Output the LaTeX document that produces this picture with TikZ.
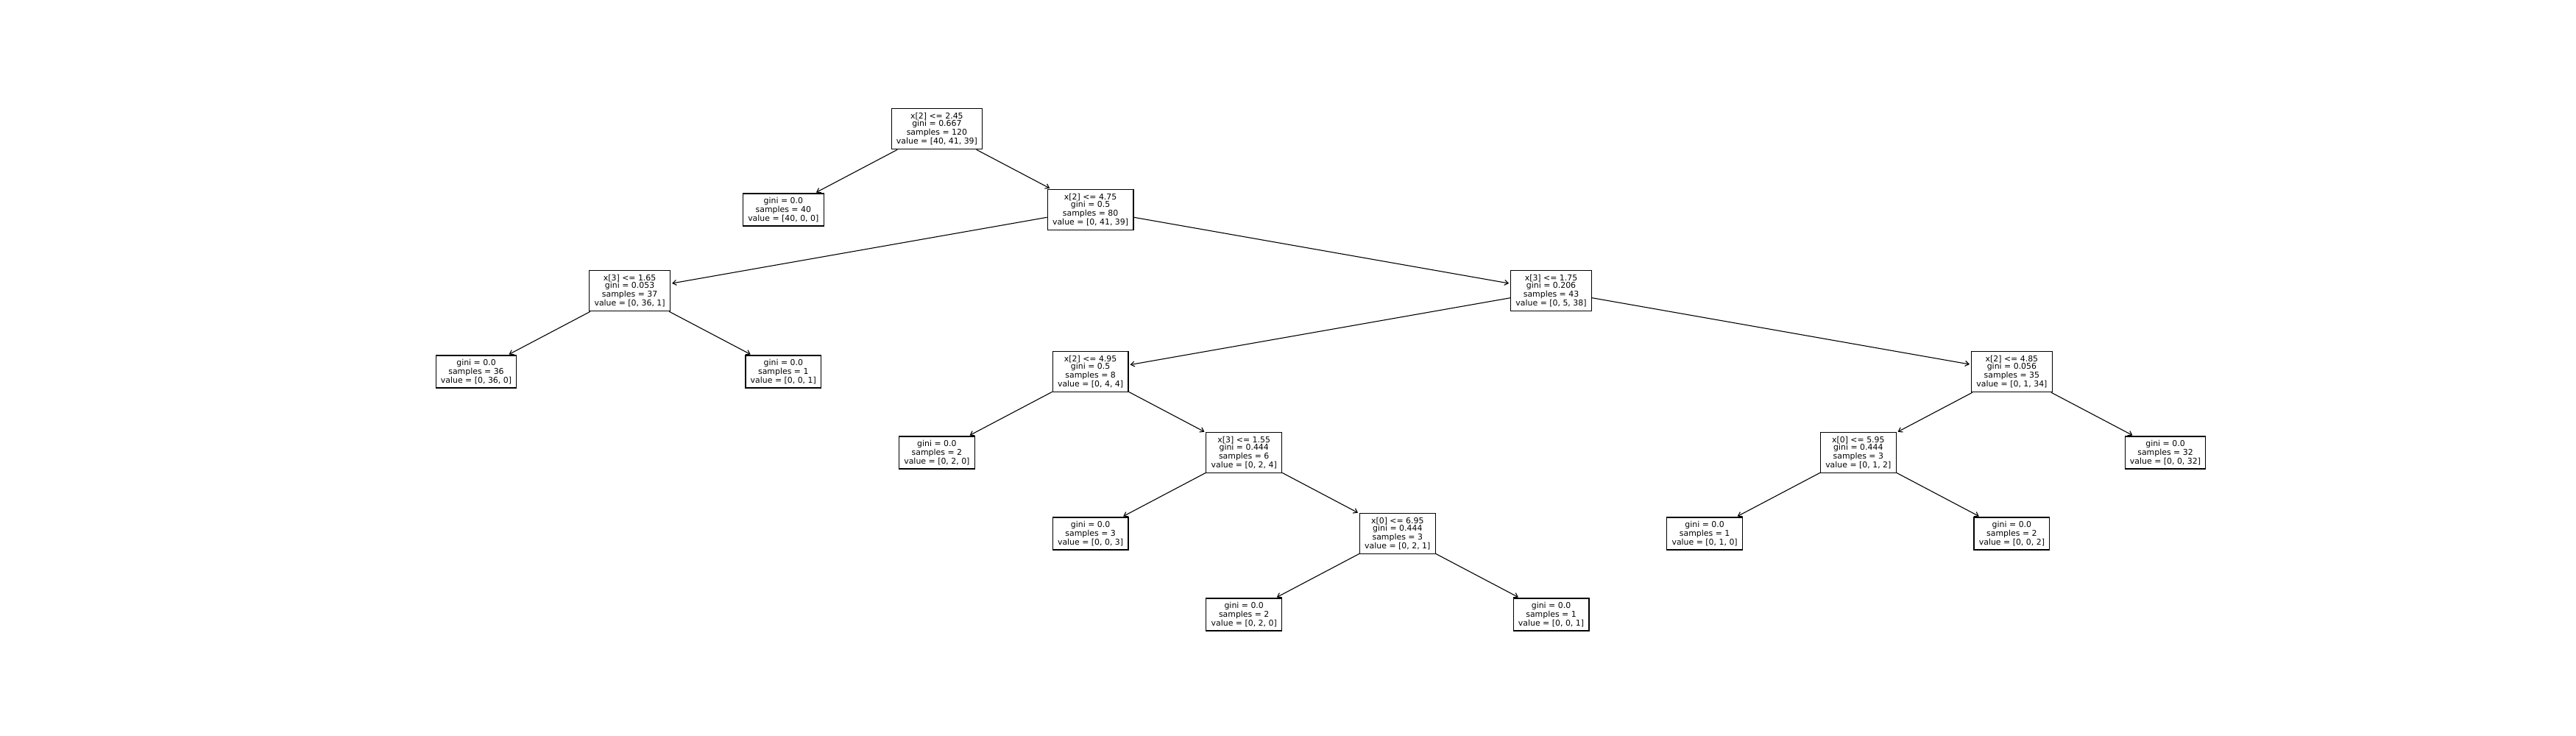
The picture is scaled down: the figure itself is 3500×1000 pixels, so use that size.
\documentclass[tikz,border=0pt]{standalone}
\usepackage{fontspec}
\setmainfont{DejaVu Sans}
\usetikzlibrary{arrows.meta}
\tikzset{
  tnode/.style={draw, fill=white, line width=1.2pt, inner xsep=6.8pt, inner ysep=0pt,
    align=center, font=\fontsize{10.92}{12}\selectfont},
  splitbox/.style={tnode, minimum height=55.4pt},
  leafbox/.style={tnode, minimum height=44pt},
  edgearrow/.style={-{Straight Barb[length=5pt,width=7pt]}, line width=1.1pt, shorten >=2pt}
}
\begin{document}
\begin{tikzpicture}[x=1pt,y=-1pt]
\useasboundingbox (0,0) rectangle (3500,1000);
% level 0
\node[splitbox] (n0) at (1272.9,175) {x[2] <= 2.45\\[-2.2pt]gini = 0.667\\samples = 120\\value = [40, 41, 39]};
% level 1
\node[leafbox] (n1) at (1064.3,285) {gini = 0.0\\samples = 40\\value = [40, 0, 0]};
\node[splitbox] (n2) at (1481.6,285) {x[2] <= 4.75\\[-2.2pt]gini = 0.5\\samples = 80\\value = [0, 41, 39]};
% level 2
\node[splitbox] (n3) at (855.6,395) {x[3] <= 1.65\\[-2.2pt]gini = 0.053\\samples = 37\\value = [0, 36, 1]};
\node[splitbox] (n6) at (2107.5,395) {x[3] <= 1.75\\[-2.2pt]gini = 0.206\\samples = 43\\value = [0, 5, 38]};
% level 3
\node[leafbox] (n4) at (647.0,505) {gini = 0.0\\samples = 36\\value = [0, 36, 0]};
\node[leafbox] (n5) at (1064.3,505) {gini = 0.0\\samples = 1\\value = [0, 0, 1]};
\node[splitbox] (n7) at (1481.6,505) {x[2] <= 4.95\\[-2.2pt]gini = 0.5\\samples = 8\\value = [0, 4, 4]};
\node[splitbox] (n14) at (2733.4,505) {x[2] <= 4.85\\[-2.2pt]gini = 0.056\\samples = 35\\value = [0, 1, 34]};
% level 4
\node[leafbox] (n8) at (1272.9,615) {gini = 0.0\\samples = 2\\value = [0, 2, 0]};
\node[splitbox] (n9) at (1690.2,615) {x[3] <= 1.55\\[-2.2pt]gini = 0.444\\samples = 6\\value = [0, 2, 4]};
\node[splitbox] (n15) at (2524.8,615) {x[0] <= 5.95\\[-2.2pt]gini = 0.444\\samples = 3\\value = [0, 1, 2]};
\node[leafbox] (n18) at (2942.0,615) {gini = 0.0\\samples = 32\\value = [0, 0, 32]};
% level 5
\node[leafbox] (n10) at (1481.6,725) {gini = 0.0\\samples = 3\\value = [0, 0, 3]};
\node[splitbox] (n11) at (1898.8,725) {x[0] <= 6.95\\[-2.2pt]gini = 0.444\\samples = 3\\value = [0, 2, 1]};
\node[leafbox] (n16) at (2316.1,725) {gini = 0.0\\samples = 1\\value = [0, 1, 0]};
\node[leafbox] (n17) at (2733.4,725) {gini = 0.0\\samples = 2\\value = [0, 0, 2]};
% level 6
\node[leafbox] (n12) at (1690.2,835) {gini = 0.0\\samples = 2\\value = [0, 2, 0]};
\node[leafbox] (n13) at (2107.5,835) {gini = 0.0\\samples = 1\\value = [0, 0, 1]};
% edges
\draw[edgearrow] (n0) -- (n1);
\draw[edgearrow] (n0) -- (n2);
\draw[edgearrow] (n2) -- (n3);
\draw[edgearrow] (n2) -- (n6);
\draw[edgearrow] (n3) -- (n4);
\draw[edgearrow] (n3) -- (n5);
\draw[edgearrow] (n6) -- (n7);
\draw[edgearrow] (n6) -- (n14);
\draw[edgearrow] (n7) -- (n8);
\draw[edgearrow] (n7) -- (n9);
\draw[edgearrow] (n9) -- (n10);
\draw[edgearrow] (n9) -- (n11);
\draw[edgearrow] (n11) -- (n12);
\draw[edgearrow] (n11) -- (n13);
\draw[edgearrow] (n14) -- (n15);
\draw[edgearrow] (n14) -- (n18);
\draw[edgearrow] (n15) -- (n16);
\draw[edgearrow] (n15) -- (n17);
\end{tikzpicture}
\end{document}
